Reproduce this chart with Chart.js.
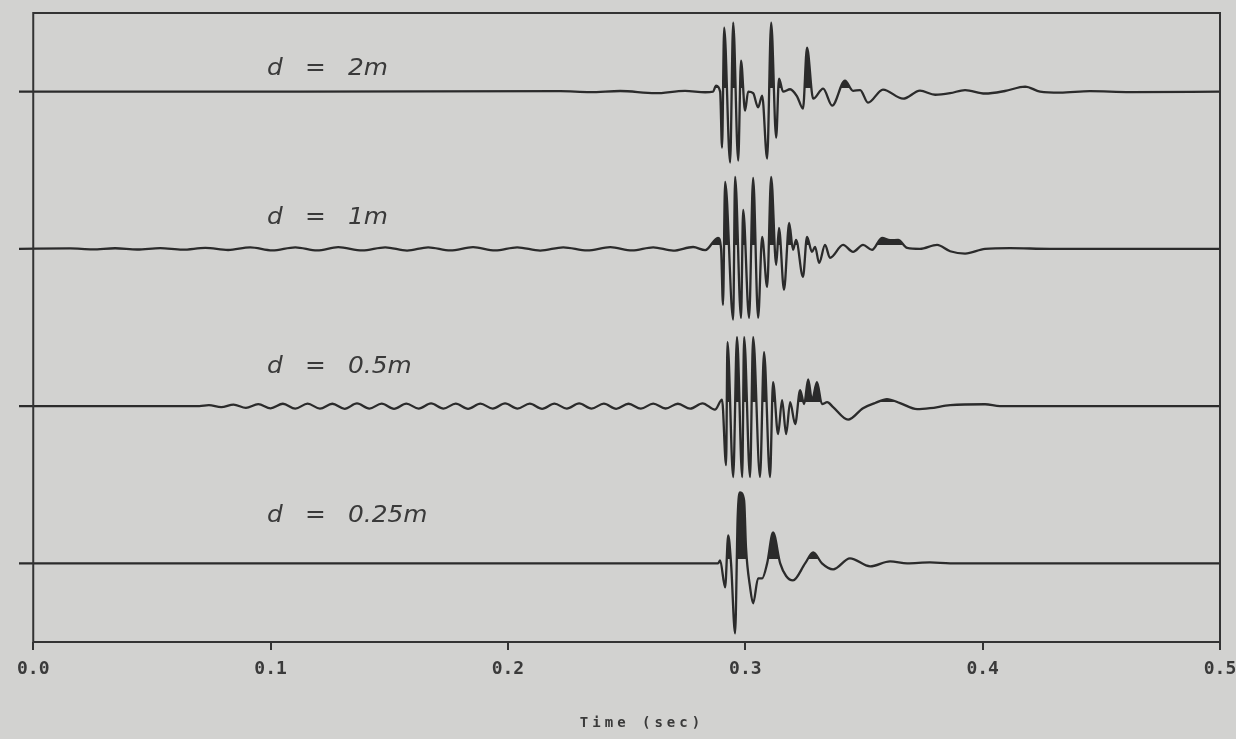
<!DOCTYPE html>
<html>
<head>
<meta charset="utf-8">
<script src="https://cdn.jsdelivr.net/npm/chart.js@4.4.1/dist/chart.umd.min.js"></script>
<style>
  html, body { margin: 0; padding: 0; background: #d2d2d0; }
  #wrap { width: 1236px; height: 739px; }
</style>
</head>
<body>
<div id="wrap"><canvas id="c" width="1236" height="739"></canvas></div>
<script>
// Source-receiver spacing for each trace, top to bottom
const traceLabels = ['2m', '1m', '0.5m', '0.25m'];
// Vertical offset of each trace's zero line on the stacked amplitude axis
const traceOffsets = [350, 250, 150, 50];
// Time axis ticks (s)
const timeTicks = [0.0, 0.1, 0.2, 0.3, 0.4, 0.5];

// Recorded waveforms: [time (s), amplitude]
const trace2m = [
  [-0.006, 0], [0.1125, 0], [0.2220, 0.3], [0.2346, -0.3], [0.2473, 0.4], [0.2620, -1], [0.2746, 0.5],
  [0.2831, -0.4], [0.2864, 0], [0.2877, 3.8], [0.2894, 0], [0.2902, -35.6], [0.2911, 40.7],
  [0.2936, -45.1], [0.2949, 43.9], [0.2970, -43.9], [0.2982, 19.7], [0.2999, -12.1], [0.3012, 0],
  [0.3033, -1], [0.3054, -10], [0.3071, -2.5], [0.3092, -42.6], [0.3109, 43.9], [0.3130, -29.3],
  [0.3142, 8.3], [0.3159, 0], [0.3189, 1.5], [0.3218, -3], [0.3243, -10.8], [0.3260, 28],
  [0.3286, -4.5], [0.3328, 1.9], [0.3366, -8.9], [0.3420, 7], [0.3454, 0.5], [0.3484, 1],
  [0.3517, -7], [0.3580, 1.3], [0.3665, -4.5], [0.3736, 0.6], [0.3800, -2], [0.3863, -1],
  [0.3926, 1], [0.4010, -1.2], [0.4094, 0.4], [0.4179, 3.2], [0.4242, 0], [0.4326, -0.6],
  [0.4452, 0.3], [0.4621, -0.3], [0.5, 0]
];

const trace1m = [
  [-0.006, 0], [0.0156, 0.3], [0.0249, -0.3], [0.0345, 0.4], [0.0438, -0.4], [0.0535, 0.5],
  [0.0628, -0.5], [0.0725, 0.6], [0.0821, -0.7], [0.0914, 0.9], [0.1007, -1.0], [0.1104, 1.0],
  [0.1196, -1.0], [0.1285, 1.1], [0.1386, -1.0], [0.1483, 1.0], [0.1575, -1.1], [0.1664, 1.0],
  [0.1757, -1.0], [0.1853, 1.1], [0.1946, -1.0], [0.2039, 1.0], [0.2136, -1.1], [0.2233, 1.0],
  [0.2334, -1.0], [0.2431, 1.1], [0.2523, -1.0], [0.2612, 1.0], [0.2696, -1.1], [0.2780, 1.2],
  [0.2831, -0.8], [0.2885, 7], [0.2898, 0], [0.2906, -35.6], [0.2915, 42.6], [0.2949, -45],
  [0.2957, 45.8], [0.2982, -43.9], [0.2991, 24.8], [0.3016, -43.9], [0.3033, 45.1], [0.3054, -43.9],
  [0.3071, 7.6], [0.3092, -24.2], [0.3109, 45.8], [0.3130, -10.2], [0.3142, 13.4], [0.3163, -26],
  [0.3185, 16.5], [0.3201, -0.6], [0.3214, 5.7], [0.3243, -17.8], [0.3260, 7.6], [0.3281, -1.9],
  [0.3294, 1.3], [0.3311, -8.9], [0.3336, 2.5], [0.3357, -5.7], [0.3412, 2.5], [0.3454, -1.9],
  [0.3496, 2.5], [0.3534, -0.6], [0.3576, 7], [0.3610, 5.5], [0.3644, 5.7], [0.3682, 0.6],
  [0.3736, 0], [0.3808, 2.5], [0.3863, -1.5], [0.3926, -3], [0.4010, 0], [0.4115, 0.5],
  [0.4284, 0], [0.5, 0]
];

const trace05m = [
  [-0.006, 0], [0.0700, 0],
  [0.0740, 0.6], [0.0792, -0.6], [0.0844, 1.0], [0.0896, -1.1], [0.0948, 1.3], [0.1000, -1.4],
  [0.1052, 1.5], [0.1104, -1.6], [0.1156, 1.6], [0.1208, -1.6], [0.1260, 1.5], [0.1312, -1.7],
  [0.1364, 1.7], [0.1416, -1.6], [0.1468, 1.6], [0.1520, -1.7], [0.1572, 1.6], [0.1624, -1.6],
  [0.1676, 1.7], [0.1728, -1.6], [0.1780, 1.6], [0.1832, -1.7], [0.1884, 1.6], [0.1936, -1.6],
  [0.1988, 1.7], [0.2040, -1.6], [0.2092, 1.6], [0.2144, -1.7], [0.2196, 1.6], [0.2248, -1.6],
  [0.2300, 1.7], [0.2352, -1.6], [0.2404, 1.6], [0.2456, -1.7], [0.2508, 1.5], [0.2560, -1.6],
  [0.2612, 1.6], [0.2664, -1.5], [0.2716, 1.5], [0.2768, -1.6], [0.2820, 1.8], [0.2872, -2.2],
  [0.2902, 4.1], [0.2919, -37.5], [0.2925, 40.7], [0.2949, -45.1], [0.2965, 43.9], [0.2987, -45.1],
  [0.2995, 43.9], [0.3020, -45.1], [0.3033, 43.9], [0.3062, -45.1], [0.3079, 34.3], [0.3104, -45.1],
  [0.3117, 15.3], [0.3138, -17.8], [0.3155, 3.8], [0.3172, -17.8], [0.3189, 2.5], [0.3210, -11.4],
  [0.3231, 10.2], [0.3248, 1.3], [0.3265, 17], [0.3281, 3.8], [0.3302, 15.3], [0.3323, 1.3],
  [0.3345, 2.5], [0.3370, -0.6], [0.3433, -8.6], [0.3496, -1.3], [0.3547, 2], [0.3597, 4.5],
  [0.3652, 1.9], [0.3724, -1.9], [0.3778, -1.3], [0.3863, 0.6], [0.4010, 1.2], [0.4073, 0],
  [0.5, 0]
];

const trace025m = [
  [-0.006, 0], [0.2885, 0], [0.2894, 1.9], [0.2915, -15.3], [0.2928, 17.8], [0.2940, 0],
  [0.2957, -44.5], [0.2968, 30], [0.2978, 45.1], [0.2995, 40], [0.3003, 10], [0.3020, -15],
  [0.3033, -25.4], [0.3054, -9.5], [0.3071, -9.5], [0.3092, 0], [0.3117, 19.7], [0.3147, 0],
  [0.3172, -8], [0.3201, -10.8], [0.3252, 0], [0.3286, 7], [0.3323, 0], [0.3370, -3.8],
  [0.3441, 3.2], [0.3526, -1.9], [0.3610, 1.3], [0.3682, 0], [0.3778, 0.6], [0.3863, 0],
  [0.5, 0]
];

const traces = [trace2m, trace1m, trace05m, trace025m];

const INK = '#2b2b2b';
const FILL_BIAS = 2.5; // positive lobes above this level are shaded (variable-area display)

const datasets = traces.map((tr, i) => ({
  label: 'd = ' + traceLabels[i],
  data: tr.map(([t, a]) => ({ x: t, y: traceOffsets[i] + a })),
  borderColor: INK,
  borderWidth: 2.3,
  pointRadius: 0,
  cubicInterpolationMode: 'monotone',
  fill: false
}));

// Variable-area shading: fill each trace's own curve above its bias level
const shadePlugin = {
  id: 'shade',
  beforeDatasetDraw(chart, args) {
    const { ctx, chartArea, scales } = chart;
    const i = args.index;
    const line = args.meta.dataset;
    const pts = args.meta.data;
    if (!line || !pts.length) return;
    line.updateControlPoints(chartArea, 'x');
    const yb = Math.round(scales.y.getPixelForValue(traceOffsets[i] + FILL_BIAS));
    ctx.save();
    ctx.beginPath();
    ctx.rect(0, 0, chart.width, yb);
    ctx.clip();
    ctx.beginPath();
    line.path(ctx);
    ctx.lineTo(pts[pts.length - 1].x, yb + 200);
    ctx.lineTo(pts[0].x, yb + 200);
    ctx.closePath();
    ctx.fillStyle = INK;
    ctx.fill();
    ctx.restore();
  }
};

// Plot frame from t = 0 to t = 0.5
const framePlugin = {
  id: 'frame',
  afterDatasetsDraw(chart) {
    const { ctx, chartArea, scales } = chart;
    const x0 = scales.x.getPixelForValue(0);
    const x1 = scales.x.getPixelForValue(0.5);
    ctx.save();
    ctx.strokeStyle = '#333333';
    ctx.lineWidth = 2;
    ctx.beginPath();
    ctx.rect(x0, chartArea.top, x1 - x0, chartArea.bottom - chartArea.top);
    ctx.stroke();
    ctx.restore();
  }
};

// Trace captions "d = ...": placed at t = 0.0985 s, baselines evenly stepped above each trace
const captionPlugin = {
  id: 'captions',
  afterDatasetsDraw(chart) {
    const { ctx, scales } = chart;
    const xl = scales.x.getPixelForValue(0.0985);
    const lift = [10.6, 15.8, 21.1, 26.3];
    ctx.save();
    ctx.fillStyle = '#3a3a3a';
    ctx.font = 'oblique 23px "DejaVu Sans", sans-serif';
    ctx.textBaseline = 'alphabetic';
    ctx.textAlign = 'left';
    traceLabels.forEach((lab, i) => {
      const y = scales.y.getPixelForValue(traceOffsets[i] + lift[i]);
      const parts = [['d', xl], ['=', xl + 38], [lab, xl + 81]];
      parts.forEach(([s, x]) => {
        ctx.save();
        ctx.translate(x, y);
        ctx.scale(1.08, 1);
        ctx.fillText(s, 0, 0);
        ctx.restore();
      });
    });
    ctx.restore();
  }
};

// Axis title
const titlePlugin = {
  id: 'axisTitle',
  afterDraw(chart) {
    const { ctx } = chart;
    ctx.save();
    ctx.fillStyle = '#3a3a3a';
    ctx.font = 'bold 14px "DejaVu Sans Mono", monospace';
    if ('letterSpacing' in ctx) ctx.letterSpacing = '4px';
    ctx.textAlign = 'center';
    ctx.textBaseline = 'middle';
    ctx.fillText('Time (sec)', 642, 723);
    ctx.restore();
  }
};

new Chart(document.getElementById('c'), {
  type: 'line',
  data: { datasets },
  options: {
    responsive: false,
    animation: false,
    devicePixelRatio: 1,
    layout: { padding: { left: 19, right: 16, top: 13, bottom: 0 } },
    plugins: { legend: { display: false }, tooltip: { enabled: false } },
    scales: {
      x: {
        type: 'linear',
        min: -0.006,
        max: 0.5,
        afterBuildTicks: s => { s.ticks = timeTicks.map(v => ({ value: v })); },
        afterFit: s => { s.height = 97; s.paddingLeft = 0; s.paddingRight = 0; },
        border: { display: false },
        grid: { drawOnChartArea: false, drawTicks: true, tickLength: 8, color: '#333333', lineWidth: 2 },
        ticks: {
          autoSkip: false, maxRotation: 0, padding: 9, color: '#3a3a3a',
          font: { family: '"DejaVu Sans Mono", monospace', size: 18, weight: 'bold' },
          callback: v => Number(v).toFixed(1)
        }
      },
      y: { type: 'linear', min: 0, max: 400, display: false }
    }
  },
  plugins: [shadePlugin, framePlugin, captionPlugin, titlePlugin]
});
</script>
</body>
</html>
